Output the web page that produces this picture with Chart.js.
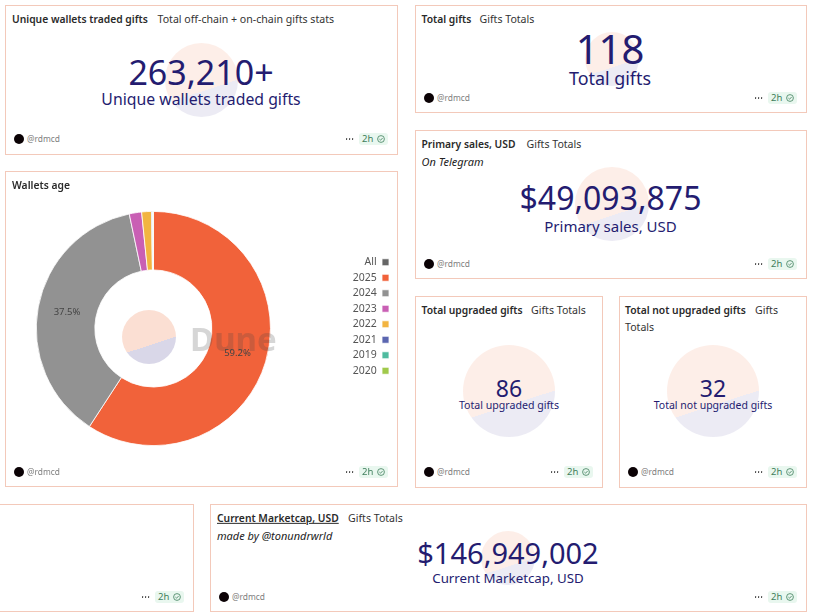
<!DOCTYPE html>
<html>
<head>
<meta charset="utf-8">
<title>Gifts dashboard</title>
<script src="https://cdn.jsdelivr.net/npm/chart.js@4/dist/chart.umd.min.js"></script>
<style>
  html, body { margin: 0; padding: 0; background: #fff; width: 820px; height: 613px; overflow: hidden; }
  body { position: relative; font-family: "Noto Sans", sans-serif; color: #222; }
  .card { position: absolute; box-sizing: border-box; border: 1px solid #f3c9ba; }
  .t { position: absolute; white-space: nowrap; transform: translateY(-50%); line-height: 1; }
  .title { font-size: 10.3px; font-weight: 600; color: #2a2a2a; }
  .sub { font-size: 10.6px; color: #333; }
  .note { font-size: 11px; font-style: italic; color: #222; }
  .kpi { color: #241c70; transform: translate(-50%, -50%); }
  .logo { position: absolute; border-radius: 50%; }
  .avatar { position: absolute; width: 10px; height: 10px; border-radius: 50%; background: #0b0205; transform: translate(-50%, -50%); }
  .user { font-size: 8.4px; color: #808080; }
  .dot { position: absolute; width: 1.8px; height: 1.8px; border-radius: 50%; background: #333; transform: translate(-50%, -50%); }
  .pill { position: absolute; width: 29px; height: 12px; border-radius: 3px; background: #e9f7ef; transform: translateY(-50%); color: #3f7f5c; font-size: 9.5px; line-height: 12px; }
  .pill span { position: absolute; left: 3px; }
  .pill svg { position: absolute; right: 3px; top: 2px; }
  #age { position: absolute; left: -43.5px; top: 211px; }
  #dune { position: absolute; left: 190px; top: 338px; font-size: 33px; font-weight: 700; color: rgba(70, 70, 70, 0.22); transform: translateY(-50%); line-height: 1; }
</style>
</head>
<body>
<canvas id="age" width="443" height="235"></canvas>
<div id="dune">Dune</div>
<script>
// wallets age donut
const ageLabels = ['All', '2025', '2024', '2023', '2022', '2021', '2019', '2020'];
const ageShares = [0, 59.2, 37.5, 1.7, 1.35, 0.15, 0.05, 0.05];
const ageColors = ['#666666', '#f1623a', '#929292', '#c95fb4', '#f2b441', '#5b66b0', '#4fbb9f', '#a0c94b'];

// counter cards
const cardTitles = ['Unique wallets traded gifts', 'Total gifts', 'Primary sales, USD', 'Total upgraded gifts', 'Total not upgraded gifts', 'Current Marketcap, USD'];
const cardSubtitles = ['Total off-chain + on-chain gifts stats', 'Gifts Totals', 'Gifts Totals', 'Gifts Totals', 'Gifts', 'Gifts Totals'];
const cardValues = ['263,210+', '118', '$49,093,875', '86', '32', '$146,949,002'];

// layout: left, top, right, bottom, footer y
const boxes = [
  [5, 5, 398, 155, 139],
  [415, 5, 807, 113, 98],
  [415, 130, 807, 279, 264],
  [415, 296, 603, 488, 472],
  [619, 296, 807, 488, 472],
  [210, 504, 807, 612, 597]
];
// title x, y, subtitle x
const heads = [[12, 19, 157.5], [421.5, 19, 479.5], [421.5, 144, 526.5], [421.5, 310, 531], [625, 310, 755], [217, 518, 348]];
// center x, value y, value size, label y, label size
const kpis = [
  [201, 72, 34, 100, 15.8],
  [610, 49, 40, 78.5, 17.9],
  [610.5, 198, 32, 226, 15],
  [509, 388, 23, 405, 10.6],
  [713, 388, 23, 405, 10.5],
  [508, 552, 29, 579, 13.3]
];
// logo center x, y, radius
const logos = [[201.7, 80, 36.7], [611.7, 59, 27], [612, 204, 36.7], [509, 391, 46], [713, 391, 46], [508.3, 558, 27]];

function add(cls, left, top, text, css) {
  const el = document.createElement('div');
  el.className = cls;
  el.style.left = left + 'px';
  el.style.top = top + 'px';
  if (text) el.textContent = text;
  if (css) el.style.cssText += css;
  document.body.appendChild(el);
  return el;
}

function addLogo(x, y, r, peach, lav) {
  const el = add('logo', x - r, y - r, '', 'width:' + (2 * r) + 'px;height:' + (2 * r) + 'px;');
  el.style.background = 'linear-gradient(162deg, ' + peach + ' 61.8%, ' + lav + ' 61.8%)';
}

function addStatus(right, y) {
  [-51.5, -48.5, -45.5].forEach(dx => add('dot', right + dx, y));
  const pill = add('pill', right - 39, y);
  pill.innerHTML = '<span>2h</span><svg width="8" height="8" viewBox="0 0 8 8" fill="none" stroke="#3f7f5c" stroke-width="0.8"><circle cx="4" cy="4" r="3.4"/><path d="M2.4 4.1 3.6 5.2 5.6 3"/></svg>';
}

function addOwner(left, y) {
  add('avatar', left + 14, y);
  add('t user', left + 22, y, '@rdmcd');
}

function frame(l, t, r, b) {
  add('card', l, t, '', 'width:' + (r - l) + 'px;height:' + (b - t) + 'px;');
}

// counters
boxes.forEach((b, i) => {
  frame(b[0], b[1], b[2], b[3]);
  addLogo(logos[i][0], logos[i][1], logos[i][2], '#fdeee8', '#ecebf4');
  const h = heads[i];
  const title = add('t title', h[0], h[1], cardTitles[i]);
  if (i === 5) title.style.textDecoration = 'underline';
  add('t sub', h[2], h[1], cardSubtitles[i]);
  const k = kpis[i];
  add('t kpi', k[0], k[1], cardValues[i], 'font-size:' + k[2] + 'px;');
  add('t kpi', k[0], k[3], cardTitles[i], 'font-size:' + k[4] + 'px;');
  addOwner(b[0], b[4]);
  addStatus(b[2], b[4]);
});
add('t sub', 625, 327, 'Totals');
add('t note', 421.5, 161, 'On Telegram');
add('t note', 217, 535, 'made by @tonundrwrld');

// wallets age card + the cut off empty card on the bottom row
frame(5, 171, 398, 487);
add('t title', 12, 185, 'Wallets age');
addOwner(5, 472);
addStatus(398, 472);
frame(-5, 504, 194, 612);
addStatus(194, 597);
addLogo(148.5, 336.5, 27, '#fbdfd3', '#d9d7e8');

// moves the legend up, it is not centered on the donut
const legendShift = {
  id: 'legendShift',
  afterLayout(chart) {
    chart.legend.top -= 12;
    chart.legend.bottom -= 12;
  }
};

// percent labels for the two big slices
const sliceLabels = {
  id: 'sliceLabels',
  afterDatasetsDraw(chart) {
    const ctx = chart.ctx;
    ctx.save();
    ctx.font = '9.5px "Noto Sans"';
    ctx.fillStyle = '#444';
    ctx.textAlign = 'center';
    ctx.textBaseline = 'middle';
    chart.getDatasetMeta(0).data.forEach((arc, i) => {
      if (ageShares[i] < 5) return;
      const p = arc.getCenterPoint();
      ctx.fillText(ageShares[i].toFixed(1) + '%', p.x, p.y);
    });
    ctx.restore();
  }
};

new Chart(document.getElementById('age'), {
  type: 'doughnut',
  data: {
    labels: ageLabels,
    datasets: [{
      data: ageShares,
      backgroundColor: ageColors,
      borderColor: '#fff',
      borderWidth: 0.8
    }]
  },
  options: {
    responsive: false,
    animation: false,
    cutout: '50%',
    layout: { padding: { left: 7, right: 6 } },
    plugins: {
      tooltip: { enabled: false },
      legend: {
        position: 'right',
        rtl: true,
        textDirection: 'ltr',
        labels: {
          boxWidth: 7,
          boxHeight: 7,
          padding: 5,
          color: '#555',
          font: { family: 'Noto Sans', size: 10.5 }
        }
      }
    }
  },
  plugins: [legendShift, sliceLabels]
});
</script>
</body>
</html>
